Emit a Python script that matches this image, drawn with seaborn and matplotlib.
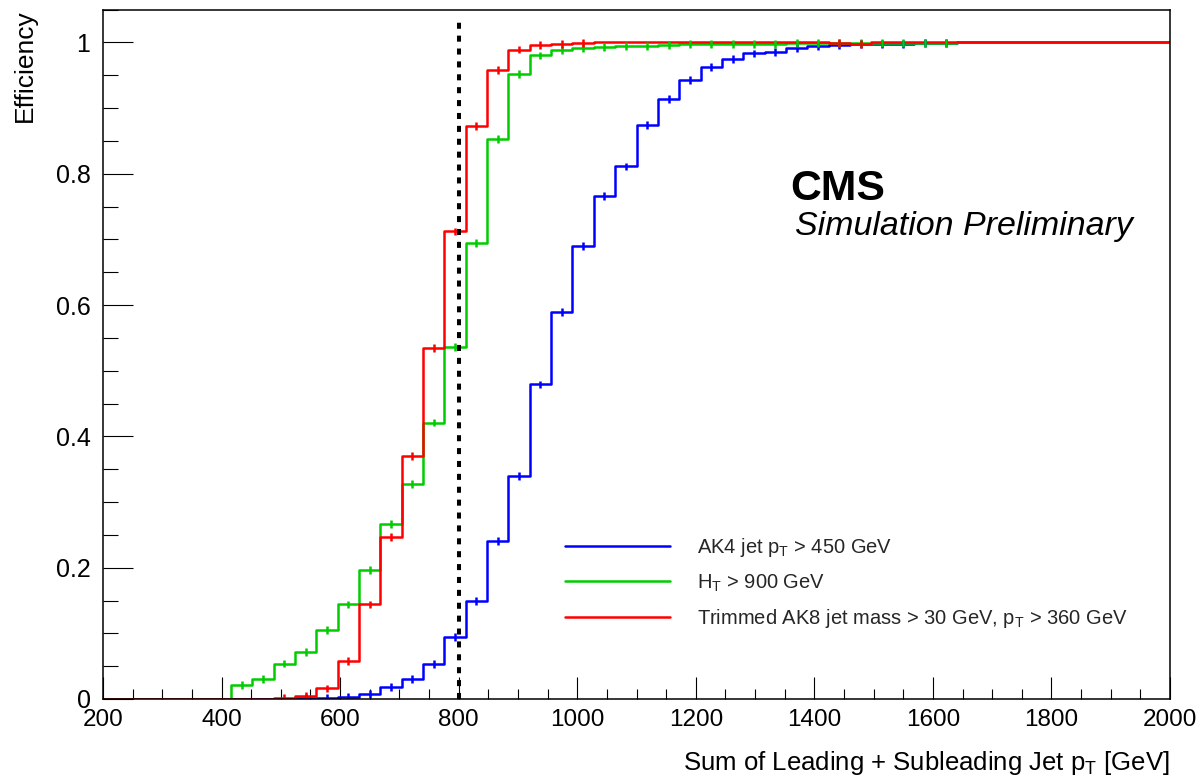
import numpy as np
import pandas as pd
import matplotlib
matplotlib.use("Agg")
import matplotlib.pyplot as plt
from matplotlib.ticker import MultipleLocator, FuncFormatter
from matplotlib.lines import Line2D
import seaborn as sns

# ---------------- data ----------------
bin_edges = np.linspace(200, 2000, 51)  # 50 uniform bins of 36 GeV

labels = [
    r"AK4 jet p$_{T}$ > 450 GeV",
    r"H$_{T}$ > 900 GeV",
    r"Trimmed AK8 jet mass > 30 GeV, p$_{T}$ > 360 GeV",
]
colors = ["#0000ff", "#00cc00", "#ff0000"]

eff_ak4 = [0, 0, 0, 0, 0, 0, 0, 0, 0,
           0.001, 0.002, 0.003, 0.008, 0.018, 0.030, 0.053, 0.095, 0.149, 0.240,
           0.339, 0.479, 0.589, 0.690, 0.766, 0.811, 0.874, 0.914, 0.943, 0.962,
           0.974, 0.983, 0.985, 0.992, 0.994, 0.996, 0.997, 0.998, 0.998, 0.999,
           0.999,
           1, 1, 1, 1, 1, 1, 1, 1, 1, 1]

eff_ht = [0, 0, 0, 0, 0, 0,
          0.021, 0.031, 0.054, 0.072, 0.105, 0.144, 0.196, 0.266, 0.327, 0.421,
          0.536, 0.695, 0.853, 0.952, 0.980, 0.988, 0.991, 0.993, 0.994, 0.995,
          0.996, 0.997, 0.997, 0.998, 0.998, 0.998, 0.999, 0.999, 0.999, 0.999,
          0.999, 0.999, 0.999, 0.999,
          1, 1, 1, 1, 1, 1, 1, 1, 1, 1]

eff_ak8 = [0, 0, 0, 0, 0, 0, 0, 0,
           0.002, 0.005, 0.016, 0.058, 0.144, 0.247, 0.370, 0.534, 0.712, 0.872,
           0.958, 0.989, 0.996, 0.998, 0.999,
           1, 1, 1, 1, 1, 1, 1, 1, 1, 1, 1,
           0.999, 0.998,
           1, 1, 1, 1, 1, 1, 1, 1, 1, 1, 1, 1, 1, 1]

err_size = 0.006
cut_value = 800

x_ticks_major = [200, 400, 600, 800, 1000, 1200, 1400, 1600, 1800, 2000]
y_ticks_major = [0, 0.2, 0.4, 0.6, 0.8, 1.0]

# ---------------- build table ----------------
series = [eff_ak4, eff_ht, eff_ak8]
rows = []
for lab, vals in zip(labels, series):
    vals_ext = list(vals) + [vals[-1]]
    for x, v in zip(bin_edges, vals_ext):
        rows.append({"x": x, "eff": v, "trigger": lab})
df = pd.DataFrame(rows)

# ---------------- style ----------------
sns.set_theme(style="ticks")
plt.rcParams["font.family"] = ["Liberation Sans", "DejaVu Sans"]
plt.rcParams["mathtext.fontset"] = "custom"
plt.rcParams["mathtext.rm"] = "Liberation Sans"
plt.rcParams["mathtext.it"] = "Liberation Sans:italic"
plt.rcParams["mathtext.bf"] = "Liberation Sans:bold"
plt.rcParams["mathtext.default"] = "regular"

fig = plt.figure(figsize=(12, 7.82), dpi=100)
fig.patch.set_facecolor("white")
ax = fig.add_axes([103 / 1200, 83 / 782, 1067 / 1200, 689.5 / 782])
ax.set_facecolor("white")

lw = 1.8
sns.lineplot(data=df, x="x", y="eff", hue="trigger", hue_order=labels,
             palette=dict(zip(labels, colors)), drawstyle="steps-post",
             estimator=None, sort=False, linewidth=lw, legend=False, ax=ax)

# error-bar ticks at bin centres
centers = 0.5 * (bin_edges[:-1] + bin_edges[1:])
for vals, c in zip(series, colors):
    v = np.array(vals, dtype=float)
    m = (v > 0) & (v < 1)
    ax.errorbar(centers[m], v[m], yerr=err_size, fmt="none", ecolor=c,
                elinewidth=lw, capsize=0)

# cut line
ax.axvline(cut_value, ymin=0, ymax=1.033 / 1.05, color="black", linewidth=2.9,
           linestyle=(0, (1.5, 1.7)))

ax.set_xlim(200, 2000)
ax.set_ylim(0, 1.05)
ax.set_xticks(x_ticks_major)
ax.set_yticks(y_ticks_major)
ax.xaxis.set_minor_locator(MultipleLocator(50))
ax.yaxis.set_minor_locator(MultipleLocator(0.05))
ax.yaxis.set_major_formatter(FuncFormatter(lambda v, p: "%g" % round(v, 2)))
ax.set_xlabel("")
ax.set_ylabel("")

ax.tick_params(axis="x", which="major", direction="in", length=15.8, width=0.8,
               labelsize=17.5, pad=7, color="black", labelcolor="black")
ax.tick_params(axis="x", which="minor", direction="in", length=7.5, width=0.8,
               color="black")
ax.tick_params(axis="y", which="major", direction="in", length=21.6, width=0.8,
               labelsize=18, pad=9, color="black", labelcolor="black")
ax.tick_params(axis="y", which="minor", direction="in", length=11, width=0.8,
               color="black")
ax.tick_params(top=False, right=False, which="both")
for s in ax.spines.values():
    s.set_visible(True)
    s.set_color("black")
    s.set_linewidth(1.1)

# legend
handles = [Line2D([0], [0], color=c, linewidth=lw) for c in colors]
ax.legend(handles, labels, loc="upper left",
          bbox_to_anchor=(565 / 1200, 1 - 536 / 782),
          bbox_transform=fig.transFigure, frameon=False, fontsize=14.5,
          handlelength=5.2, handletextpad=1.34, labelspacing=0.66,
          borderpad=0, borderaxespad=0)

# axis titles
fig.text(1170 / 1200, 1 - 770 / 782,
         r"Sum of Leading + Subleading Jet p$_{T}$ [GeV]",
         ha="right", va="baseline", fontsize=18.5, color="black")
fig.text(25 / 1200, 1 - 9 / 782, "Efficiency", rotation=90, ha="center",
         va="top", fontsize=19, color="black")

# CMS label
fig.text(790 / 1200, 1 - 200 / 782, "CMS", fontsize=30.8, fontweight="bold",
         ha="left", va="baseline", color="black")
fig.text(795 / 1200, 1 - 235 / 782, "Simulation Preliminary", fontsize=24.5,
         fontstyle="italic", ha="left", va="baseline", color="black")

fig.savefig("out.png", dpi=100, facecolor="white")
